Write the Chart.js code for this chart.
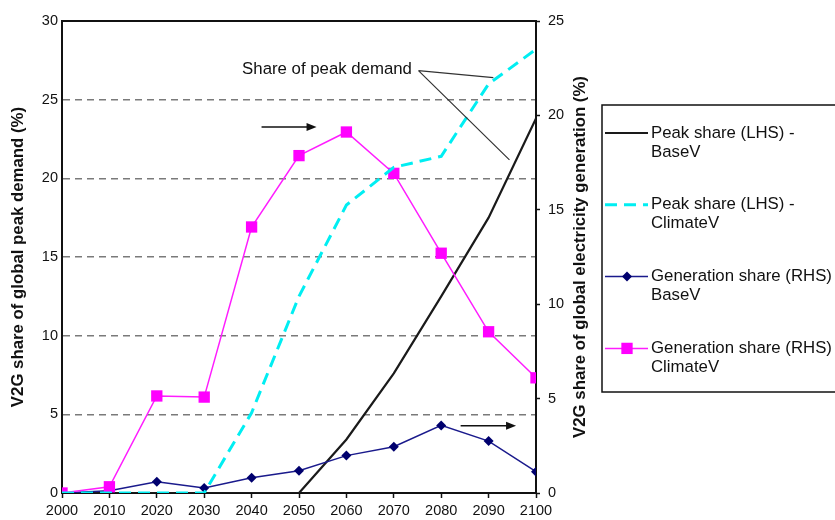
<!DOCTYPE html>
<html>
<head>
<meta charset="utf-8">
<script src="https://cdn.jsdelivr.net/npm/chart.js@4.4.0/dist/chart.umd.min.js"></script>
<style>
  html, body { margin: 0; padding: 0; background: #fff; }
  #wrap { width: 835px; height: 520px; }
</style>
</head>
<body>
<div id="wrap"><canvas id="grafico" width="835" height="520"></canvas></div>
<script>
// dados
const anos = [2000, 2010, 2020, 2030, 2040, 2050, 2060, 2070, 2080, 2090, 2100];
const picoBase = [0, 0, 0, 0, 0, 0, 3.4, 7.6, 12.5, 17.5, 23.8];
const picoClima = [0, 0, 0, 0, 5.1, 12.5, 18.3, 20.7, 21.4, 26.0, 28.2];
const geracaoBase = [0, 0.12, 0.6, 0.27, 0.81, 1.18, 1.98, 2.45, 3.58, 2.75, 1.13];
const geracaoClima = [0, 0.33, 5.14, 5.08, 14.09, 17.87, 19.12, 16.93, 12.7, 8.54, 6.1];
const ticksEsq = [0, 5, 10, 15, 20, 25, 30];
const ticksDir = [0, 5, 10, 15, 20, 25];
const legendas = [
  ['Peak share (LHS) -', 'BaseV'],
  ['Peak share (LHS) -', 'ClimateV'],
  ['Generation share (RHS)', 'BaseV'],
  ['Generation share (RHS)', 'ClimateV']
];

const fonte = '"Liberation Sans", Arial, Helvetica, sans-serif';
const pontos = serie => anos.map((a, i) => ({ x: a, y: serie[i] }));

// titulos dos eixos (os dois lidos de baixo para cima)
const titulosPlugin = {
  id: 'titulos',
  afterDraw(chart) {
    const ctx = chart.ctx;
    const area = chart.chartArea;
    const meio = (area.top + area.bottom) / 2;
    const titulo = (texto, xc) => {
      ctx.save();
      ctx.fillStyle = '#111';
      ctx.font = 'bold 16.8px ' + fonte;
      ctx.textBaseline = 'middle';
      ctx.textAlign = 'center';
      ctx.translate(xc, meio);
      ctx.rotate(-Math.PI / 2);
      ctx.fillText(texto, 0, 0);
      ctx.restore();
    };
    titulo('V2G share of global peak demand (%)', 18);
    titulo('V2G share of global electricity generation (%)', 580);

    // borda de cima da area do grafico
    ctx.save();
    ctx.strokeStyle = '#111';
    ctx.lineWidth = 2;
    ctx.beginPath();
    ctx.moveTo(area.left, area.top);
    ctx.lineTo(area.right, area.top);
    ctx.stroke();
    ctx.restore();
  }
};

// setas e texto "Share of peak demand"
const anotacoesPlugin = {
  id: 'anotacoes',
  afterDatasetsDraw(chart) {
    const ctx = chart.ctx;
    const x = chart.scales.x, y = chart.scales.y;
    const px = v => x.getPixelForValue(v);
    const py = v => y.getPixelForValue(v);

    const seta = (x0, x1, yv) => {
      const a = px(x0), b = px(x1), c = py(yv);
      ctx.beginPath();
      ctx.moveTo(a, c);
      ctx.lineTo(b - 8, c);
      ctx.stroke();
      ctx.beginPath();
      ctx.moveTo(b, c);
      ctx.lineTo(b - 10, c - 4);
      ctx.lineTo(b - 10, c + 4);
      ctx.closePath();
      ctx.fill();
    };

    ctx.save();
    ctx.strokeStyle = '#111';
    ctx.fillStyle = '#111';
    ctx.lineWidth = 1.5;
    seta(2042.1, 2053.7, 23.27);
    seta(2084.1, 2095.8, 4.28);

    ctx.font = '16.8px ' + fonte;
    ctx.textAlign = 'left';
    ctx.textBaseline = 'middle';
    ctx.fillText('Share of peak demand', px(2038.0), py(26.94));

    ctx.strokeStyle = '#333';
    ctx.lineWidth = 1.2;
    ctx.beginPath();
    ctx.moveTo(px(2075.2), py(26.85));
    ctx.lineTo(px(2091.0), py(26.40));
    ctx.moveTo(px(2075.2), py(26.85));
    ctx.lineTo(px(2094.4), py(21.17));
    ctx.stroke();
    ctx.restore();
  }
};

// legenda ao lado, com texto em duas linhas
const legendaPlugin = {
  id: 'legendaLateral',
  afterDraw(chart) {
    const ctx = chart.ctx;
    ctx.save();
    ctx.strokeStyle = '#111';
    ctx.lineWidth = 1.5;
    ctx.strokeRect(602, 105, 300, 287);

    chart.data.datasets.forEach((ds, i) => {
      const yl = 133 + i * 71.8;
      ctx.save();
      ctx.strokeStyle = ds.borderColor;
      ctx.lineWidth = ds.borderWidth;
      ctx.setLineDash(ds.borderDash || []);
      ctx.beginPath();
      ctx.moveTo(605, yl);
      ctx.lineTo(648, yl);
      ctx.stroke();
      ctx.setLineDash([]);
      if (ds.pointRadius > 0) {
        const r = ds.pointRadius;
        ctx.fillStyle = ds.pointBackgroundColor;
        ctx.beginPath();
        if (ds.pointStyle === 'rectRot') {
          ctx.moveTo(627, yl - r);
          ctx.lineTo(627 + r, yl);
          ctx.lineTo(627, yl + r);
          ctx.lineTo(627 - r, yl);
        } else {
          const s = r * Math.SQRT1_2;
          ctx.rect(627 - s, yl - s, 2 * s, 2 * s);
        }
        ctx.closePath();
        ctx.fill();
      }
      ctx.restore();

      ctx.fillStyle = '#111';
      ctx.font = '16.8px ' + fonte;
      ctx.textAlign = 'left';
      ctx.textBaseline = 'middle';
      legendas[i].forEach((t, k) => ctx.fillText(t, 651, yl + k * 19));
    });
    ctx.restore();
  }
};

const ctx = document.getElementById('grafico').getContext('2d');
new Chart(ctx, {
  type: 'line',
  data: {
    datasets: [
      {
        label: 'Peak share (LHS) - BaseV',
        data: pontos(picoBase),
        yAxisID: 'y',
        borderColor: '#1a1a1a',
        borderWidth: 2.2,
        pointRadius: 0,
        order: 4
      },
      {
        label: 'Peak share (LHS) - ClimateV',
        data: pontos(picoClima),
        yAxisID: 'y',
        borderColor: '#00eef2',
        borderWidth: 3,
        borderDash: [12, 7],
        pointRadius: 0,
        order: 1
      },
      {
        label: 'Generation share (RHS) BaseV',
        data: pontos(geracaoBase),
        yAxisID: 'y2',
        borderColor: '#1a1a8c',
        borderWidth: 1.5,
        pointStyle: 'rectRot',
        pointRadius: 5,
        pointBackgroundColor: '#00006e',
        pointBorderColor: '#00006e',
        pointBorderWidth: 0,
        order: 3
      },
      {
        label: 'Generation share (RHS) ClimateV',
        data: pontos(geracaoClima),
        yAxisID: 'y2',
        borderColor: '#ff1cff',
        borderWidth: 1.5,
        pointStyle: 'rect',
        pointRadius: 8,
        pointBackgroundColor: '#ff00ff',
        pointBorderColor: '#ff00ff',
        pointBorderWidth: 0,
        order: 2
      }
    ]
  },
  options: {
    responsive: false,
    animation: false,
    layout: { padding: { left: 38, right: 271, top: 21, bottom: 0 } },
    scales: {
      x: {
        type: 'linear',
        min: 2000,
        max: 2100,
        afterBuildTicks: s => { s.ticks = anos.map(v => ({ value: v })); },
        afterFit: s => { s.height = 27; },
        ticks: {
          color: '#111',
          padding: 6,
          font: { family: fonte, size: 14.5, lineHeight: 1 },
          maxRotation: 0,
          callback: v => String(v)
        },
        grid: { drawOnChartArea: false, tickLength: 5, color: '#111', tickWidth: 1.5 },
        border: { color: '#111', width: 2 }
      },
      y: {
        position: 'left',
        min: 0,
        max: 30,
        afterBuildTicks: s => { s.ticks = ticksEsq.map(v => ({ value: v })); },
        afterFit: s => { s.width = 24; },
        ticks: {
          color: '#111',
          padding: 4,
          font: { family: fonte, size: 14.5 }
        },
        grid: {
          color: c => (c.tick && (c.tick.value === 0 || c.tick.value === 30)) ? 'rgba(0,0,0,0)' : '#7a7a7a',
          lineWidth: 1.5,
          drawTicks: false
        },
        border: { color: '#111', width: 2, dash: [7, 5] }
      },
      y2: {
        position: 'right',
        min: 0,
        max: 25,
        afterBuildTicks: s => { s.ticks = ticksDir.map(v => ({ value: v })); },
        afterFit: s => { s.width = 28; },
        ticks: {
          color: '#111',
          padding: 8,
          font: { family: fonte, size: 14.5 }
        },
        grid: { drawOnChartArea: false, tickLength: 4, color: '#111', tickWidth: 1.5 },
        border: { color: '#111', width: 2 }
      }
    },
    plugins: {
      legend: { display: false },
      tooltip: { enabled: false }
    }
  },
  plugins: [titulosPlugin, anotacoesPlugin, legendaPlugin]
});
</script>
</body>
</html>
